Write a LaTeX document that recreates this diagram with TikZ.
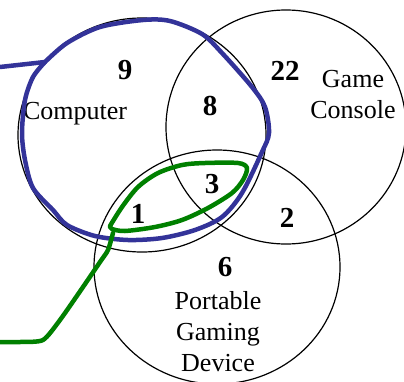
\documentclass[tikz,border=0pt]{standalone}
\usepackage{fontspec}
\setmainfont{Liberation Serif}
\definecolor{penblue}{RGB}{51,51,153}
\definecolor{pengreen}{RGB}{0,128,0}

\begin{document}
\begin{tikzpicture}[x=1pt,y=-1pt,
  setline/.style={draw=black,line width=1.2pt},
  ink/.style={line width=4.5pt,line cap=round,line join=round},
  count/.style={font=\bfseries\fontsize{29}{32}\selectfont,inner sep=0pt},
  setname/.style={font=\fontsize{26}{31}\selectfont,align=center,inner sep=0pt}]
\useasboundingbox (0,0) rectangle (404,381);

% Computer set
\draw[setline] (142,135) ellipse [x radius=124pt, y radius=117pt];

% Game Console set
\draw[setline] (286,127) ellipse [x radius=120pt, y radius=117pt];

% Portable Gaming Device set
\draw[setline] (217,267) ellipse [x radius=123pt, y radius=117pt];

% counts
\node[count] (n9) at (125,70) {9};
\node[count] (n22) at (285,71) {22};
\node[count] (n8) at (210,106) {8};
\node[count] (n3) at (212,184) {3};
\node[count] (n1) at (138,214) {1};
\node[count] (n2) at (287,218) {2};
\node[count] (n6) at (225,267) {6};

% set names
\node[setname] (computer) at (75,114) {Computer};
\node[setname] (console) at (353,95) {Game\\Console};
\node[setname] (portable) at (218,332) {Portable\\Gaming\\Device};

% blue loop round Computer
\draw[ink,penblue] (0,67) -- (45,62);
\draw[ink,penblue] plot[smooth,tension=.5] coordinates {(45,62) (67,43) (100,27) (143,20) (170,21) (202,34) (222,53) (252,87) (265,107) (269,133) (262,152) (242,193) (222,217) (195,230) (162,238) (128,240) (95,236) (67,225) (53,210) (33,188) (25,160) (22,133) (25,100) (33,77) (45,62)};

% green loop round 1 and 3
\draw[ink,pengreen] plot[smooth,tension=.5] coordinates {(110,226) (122,207) (138,187) (158,173) (182,165) (205,163) (238,163) (247,168) (243,180) (232,193) (208,208) (182,220) (155,227) (125,231) (112,229) (110,226)};
\draw[ink,pengreen] plot[smooth,tension=.4] coordinates {(113,233) (108,250) (100,262) (83,287) (60,320) (43,340) (20,342) (0,342)};
\end{tikzpicture}
\end{document}
